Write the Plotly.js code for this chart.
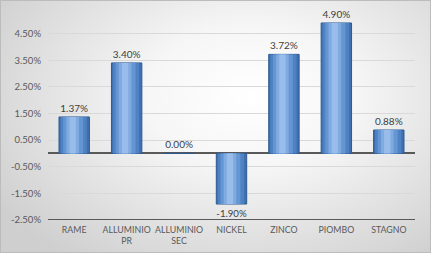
<!DOCTYPE html>
<html>
<head>
<meta charset="utf-8">
<script src="https://cdn.plot.ly/plotly-3.0.1.min.js"></script>
<style>
html,body{margin:0;padding:0;}
#wrap{width:429px;height:251px;border:1px solid #bcbcbc;
background:radial-gradient(ellipse 70% 80% at 58% 38%, #ffffff 0%, #f6f6f6 35%, #dedede 75%, #cfcfcf 100%);}
#chart{width:429px;height:251px;}
</style>
</head>
<body>
<div id="wrap"><div id="chart"></div></div>
<script>
const categories = ["RAME", "ALLUMINIO<br>PR", "ALLUMINIO<br>SEC", "NICKEL", "ZINCO", "PIOMBO", "STAGNO"];
const values = [1.37, 3.40, 0.00, -1.90, 3.72, 4.90, 0.88];
const tickVals = [4.5, 3.5, 2.5, 1.5, 0.5, -0.5, -1.5, -2.5];
const tickText = ["4.50%", "3.50%", "2.50%", "1.50%", "0.50%", "-0.50%", "-1.50%", "-2.50%"];

const layers = [
  {w: 0.58, c: "#3f6fae", off: 0},
  {w: 0.50, c: "#4f82c2", off: -0.01},
  {w: 0.38, c: "#6596d4", off: -0.02},
  {w: 0.24, c: "#80abe0", off: -0.03},
  {w: 0.12, c: "#98bdea", off: -0.03}
];
const traces = layers.map((L, i) => ({
  type: "bar",
  x: categories,
  y: values,
  width: L.w,
  offset: -L.w / 2 + L.off,
  marker: {color: L.c, line: {color: i === 0 ? "#2d5a92" : L.c, width: i === 0 ? 1 : 0}},
  hoverinfo: "skip",
  text: i === 0 ? values.map(v => v.toFixed(2) + "%") : undefined,
  textposition: i === 0 ? "outside" : "none",
  textfont: {family: "Lato, 'Open Sans', sans-serif", size: 10, color: "#404040"},
  cliponaxis: false,
  showlegend: false
}));

const layout = {
  width: 429, height: 251,
  margin: {l: 47, r: 15, t: 6, b: 32},
  paper_bgcolor: "rgba(0,0,0,0)",
  plot_bgcolor: "rgba(0,0,0,0)",
  barmode: "overlay",
  font: {family: "Lato, 'Open Sans', sans-serif", size: 9.5, color: "#595959"},
  xaxis: {
    type: "category",
    showgrid: false, zeroline: false, showline: false,
    ticks: "", tickangle: 0, tickfont: {size: 8.8, color: "#595959"},
    ticklabelstandoff: 3
  },
  yaxis: {
    range: [-2.5, 5.5],
    tickvals: tickVals, ticktext: tickText,
    showgrid: true, gridcolor: "#d9d9d9", gridwidth: 1,
    zeroline: true, zerolinecolor: "#595959", zerolinewidth: 2,
    showline: false, ticks: "",
    tickfont: {size: 9.5, color: "#595959"},
    ticklabelstandoff: 6
  },
  shapes: [{type: "line", xref: "paper", yref: "y", x0: 0, x1: 1, y0: -2.5, y1: -2.5,
            line: {color: "#595959", width: 2}}]
};
Plotly.newPlot("chart", traces, layout, {displayModeBar: false, staticPlot: true});
</script>
</body>
</html>
